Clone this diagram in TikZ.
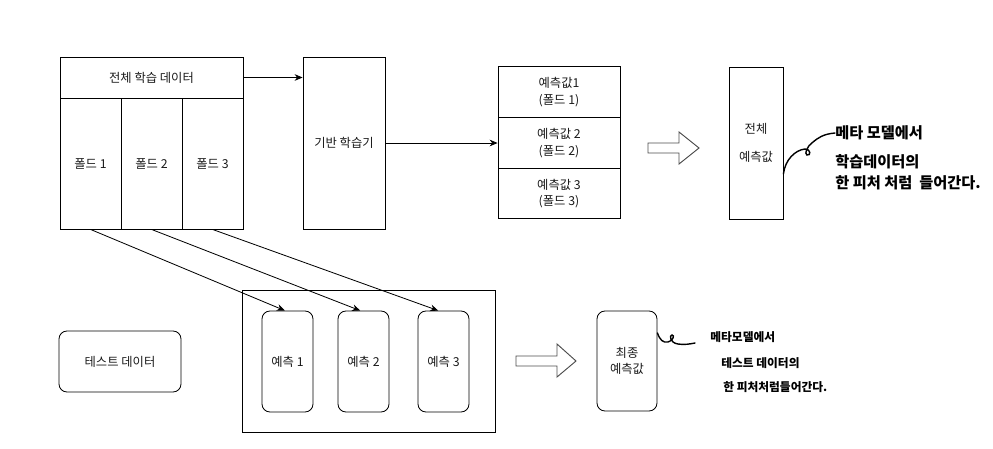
\documentclass[tikz,border=0pt]{standalone}
\usepackage{fontspec}
\setmainfont{Noto Sans CJK KR}
\usetikzlibrary{arrows.meta}
\tikzset{
  box/.style={draw, inner sep=0pt, align=center, font=\fontsize{10.5}{14}\selectfont, text=black!90},
  roundbox/.style={box, rounded corners=2.4mm},
  feed/.style={-{Stealth[length=2.4mm,width=2mm]}},
  memo/.style={anchor=west, inner sep=0pt, font=\fontsize{13}{13}\selectfont\bfseries},
  smallmemo/.style={memo, font=\fontsize{10}{10}\selectfont\bfseries},
  scribble/.style={line width=1.2pt, line cap=round},
  hollow/.style={draw=black!70, line width=0.8pt, line join=miter},
}
\begin{document}
\begin{tikzpicture}[x=0.03cm, y=-0.03cm, line width=0.7pt]
\useasboundingbox (0,0) rectangle (993,448);

\node[box, minimum width=5.49cm, minimum height=1.23cm] (train) at (151.5, 77.5) {전체 학습 데이터};
\node[box, minimum width=1.83cm, minimum height=3.93cm] (fold1) at (90.5, 163.5) {폴드 1};
\node[box, minimum width=1.83cm, minimum height=3.93cm] (fold2) at (151.5, 163.5) {폴드 2};
\node[box, minimum width=1.83cm, minimum height=3.93cm] (fold3) at (212.5, 163.5) {폴드 3};

\node[box, minimum width=2.46cm, minimum height=5.16cm] (base) at (344, 143) {기반 학습기};

\node[box, minimum width=3.66cm, minimum height=1.52cm] (pred1) at (559, 92) {예측값1\\(폴드 1)};
\node[box, minimum width=3.66cm, minimum height=1.52cm] (pred2) at (559, 143) {예측값 2\\(폴드 2)};
\node[box, minimum width=3.66cm, minimum height=1.52cm] (pred3) at (559, 193.5) {예측값 3\\(폴드 3)};

\node[box, minimum width=1.62cm, minimum height=4.56cm, font=\fontsize{10.5}{24}\selectfont] (allpred) at (756, 143) {전체\\예측값};

\node[roundbox, minimum width=3.66cm, minimum height=1.83cm] (test) at (120, 361.5) {테스트 데이터};
\node[box, minimum width=7.59cm, minimum height=4.26cm] (frame) at (368.5, 361) {};
\node[roundbox, minimum width=1.53cm, minimum height=3.03cm] (guess1) at (287.5, 361.5) {예측 1};
\node[roundbox, minimum width=1.53cm, minimum height=3.03cm] (guess2) at (363.5, 361.5) {예측 2};
\node[roundbox, minimum width=1.53cm, minimum height=3.03cm] (guess3) at (443.5, 361.5) {예측 3};

\node[roundbox, minimum width=1.8cm, minimum height=3cm] (final) at (627, 361) {최종\\예측값};

\draw[feed] (train.east) -- (train.east -| base.west);
\draw[feed] (base.east) -- (pred2.west);
\draw[feed] (fold1.south) -- ([xshift=-0.8mm]guess1.north);
\draw[feed] (fold2.south) -- ([xshift=-1mm]guess2.north);
\draw[feed] (fold3.south) -- ([xshift=-1.6mm]guess3.north);

\draw[hollow] (648,143) -- (679,143) -- (679,132) -- (699,148) -- (679,164) -- (679,153) -- (648,153) -- cycle;
\draw[hollow] (516,356) -- (557,356) -- (557,344) -- (576,361) -- (557,377) -- (557,366) -- (516,366) -- cycle;

\node[memo] (note1) at (835, 133) {메타 모델에서};
\node[memo] (note2) at (835, 162) {학습데이터의};
\node[memo] (note3) at (835, 183) {한 피처 처럼 \ 들어간다.};
\draw[scribble] (allpred.east |- 0,174) .. controls (785,160) and (795,150) .. (805,149)
  .. controls (811,149) and (811,156) .. (807,155) .. controls (804,154) and (807,146) .. (813,142)
  .. controls (818,138) and (823,134) .. (note1.west);

\node[smallmemo] (note4) at (710, 337) {메타모델에서};
\node[smallmemo] (note5) at (721, 363) {테스트 데이터의};
\node[smallmemo] (note6) at (723, 387) {한 피처처럼들어간다.};
\draw[scribble] (final.east |- 0,333) .. controls (660,340) and (663,343) .. (668,342)
  .. controls (673,341) and (675,335) .. (672,335) .. controls (669,335) and (670,343) .. (678,344)
  .. controls (684,345) and (690,344) .. (695,343);

\end{tikzpicture}
\end{document}
